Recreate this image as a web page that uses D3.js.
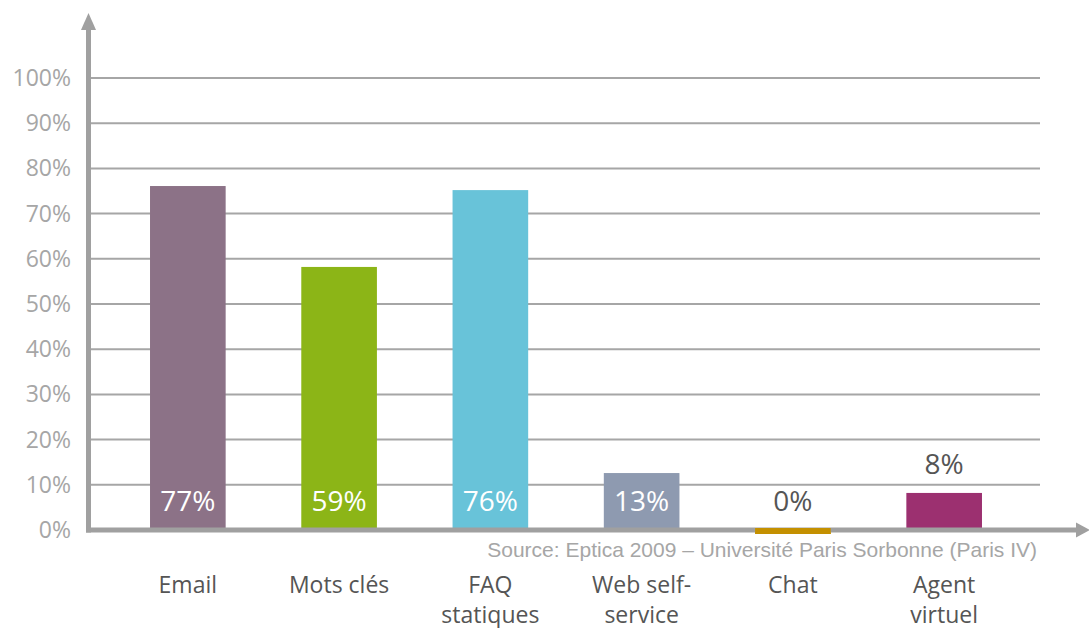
<!DOCTYPE html>
<html>
<head>
  <title>Eptica 2009</title>
  <style type="text/css">
    body { margin: 0; background: #fff; }
    svg { display: block; }
  </style>
</head>
<body>

<svg id='vis' width='1089' height='628'></svg>

<script src="https://cdnjs.cloudflare.com/ajax/libs/d3/7.8.5/d3.min.js"></script>
<script type="text/javascript">

  // data
  var categories = [['Email'], ['Mots clés'], ['FAQ', 'statiques'], ['Web self-', 'service'], ['Chat'], ['Agent', 'virtuel']];
  var values = [76.1, 58.2, 75.2, 12.6, 0, 8.2];
  var valueLabels = ['77%', '59%', '76%', '13%', '0%', '8%'];
  var colors = ['#8c7287', '#8cb517', '#68c3d9', '#8e9ab0', '#c49000', '#9c3070'];
  var yTicks = [0, 10, 20, 30, 40, 50, 60, 70, 80, 90, 100];
  var source = 'Source: Eptica 2009 \u2013 Université Paris Sorbonne (Paris IV)';

  var axisColor = '#a0a0a0',
      textFont = "'Open Sans', 'Noto Sans', sans-serif";

  var svg = d3.select('#vis');

  var x = d3.scaleBand()
    .domain(d3.range(categories.length))
    .range([88, 1044])
    .paddingInner(0.5)
    .paddingOuter(0.41);

  var y = d3.scaleLinear()
    .domain([0, 100])
    .range([530, 78]);

  // gridlines
  svg.append('g')
    .selectAll('line')
    .data(yTicks.filter(function(d) { return d > 0 }))
    .enter().append('line')
      .attr('x1', 88)
      .attr('x2', 1040)
      .attr('y1', function(d) { return y(d) })
      .attr('y2', function(d) { return y(d) })
      .attr('stroke', '#a6a6a6')
      .attr('stroke-width', 2);

  // y tick labels
  svg.append('g')
    .selectAll('text')
    .data(yTicks)
    .enter().append('text')
      .attr('x', 71)
      .attr('y', function(d) { return y(d) + 8 })
      .attr('text-anchor', 'end')
      .attr('font-family', textFont)
      .attr('font-size', 23)
      .attr('fill', '#a6a6a6')
      .text(function(d) { return d + '%' });

  // bars (0% still gets a thin strip like the original)
  svg.append('g')
    .selectAll('rect')
    .data(values)
    .enter().append('rect')
      .attr('x', function(d, i) { return x(i) })
      .attr('width', x.bandwidth())
      .attr('y', function(d) { return d > 0 ? y(d) : y(0) - 2 })
      .attr('height', function(d) { return d > 0 ? y(0) - y(d) : 6 })
      .attr('fill', function(d, i) { return colors[i] });

  // axes with arrows
  var axes = svg.append('g').attr('fill', axisColor).attr('stroke', axisColor);
  axes.append('line')
    .attr('x1', 88.5).attr('x2', 88.5)
    .attr('y1', 532.5).attr('y2', 26)
    .attr('stroke-width', 5);
  axes.append('path')
    .attr('stroke', 'none')
    .attr('d', 'M88.5,13 L96,30 L81,30 Z');
  axes.append('line')
    .attr('x1', 86).attr('x2', 1080)
    .attr('y1', 530).attr('y2', 530)
    .attr('stroke-width', 5);
  axes.append('path')
    .attr('stroke', 'none')
    .attr('d', 'M1090,530 L1076,522.5 L1076,537.5 Z');

  // re-draw the chat strip on top of the axis
  svg.append('rect')
    .attr('x', x(4))
    .attr('width', x.bandwidth())
    .attr('y', y(values[4]) - 2)
    .attr('height', 6)
    .attr('fill', colors[4]);

  // value labels: inside when the bar is tall enough, above otherwise
  svg.append('g')
    .selectAll('text')
    .data(values)
    .enter().append('text')
      .attr('x', function(d, i) { return x(i) + x.bandwidth() / 2 })
      .attr('y', function(d) { return (y(0) - y(d)) > 40 ? 511 : y(d) - 19 })
      .attr('text-anchor', 'middle')
      .attr('font-family', textFont)
      .attr('font-size', 28)
      .attr('fill', function(d) { return (y(0) - y(d)) > 40 ? '#fff' : '#555' })
      .text(function(d, i) { return valueLabels[i] });

  // source note
  svg.append('text')
    .attr('x', 1037)
    .attr('y', 557)
    .attr('text-anchor', 'end')
    .attr('font-family', "'Liberation Sans', Arial, sans-serif")
    .attr('font-size', 21)
    .attr('fill', '#a6a6a6')
    .text(source);

  // category labels
  var cat = svg.append('g')
    .selectAll('text')
    .data(categories)
    .enter().append('text')
      .attr('x', function(d, i) { return x(i) + x.bandwidth() / 2 })
      .attr('y', 593)
      .attr('text-anchor', 'middle')
      .attr('font-family', textFont)
      .attr('font-size', 23)
      .attr('fill', '#555');

  cat.selectAll('tspan')
    .data(function(d) { return d })
    .enter().append('tspan')
      .attr('x', function() { return d3.select(this.parentNode).attr('x') })
      .attr('dy', function(d, i) { return i === 0 ? 0 : 30 })
      .text(function(d) { return d });

</script>
</body>
</html>
